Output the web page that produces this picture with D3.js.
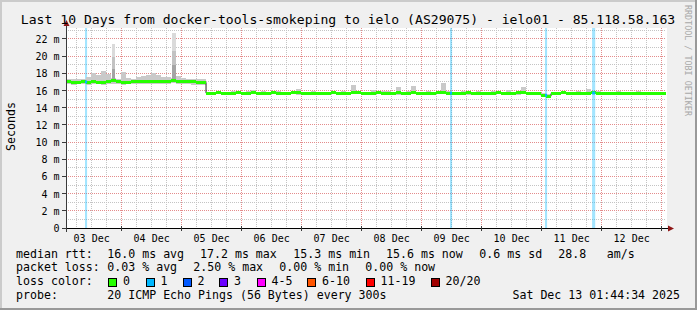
<!DOCTYPE html>
<html><head><meta charset="utf-8">
<script src="https://cdn.jsdelivr.net/npm/d3@7"></script>
<style>
html,body{margin:0;padding:0;background:#f0f0f0;overflow:hidden;}
svg{display:block;font-family:"DejaVu Sans Mono",monospace;}
</style>
</head><body><div id="chart"></div>
<script>
// ---------------- DATA ----------------
const title = "Last 10 Days from docker-tools-smokeping to ielo (AS29075) - ielo01 - 85.118.58.163";
const yAxisTitle = "Seconds";
const watermark = "RRDTOOL / TOBI OETIKER";
const rangeStart = "2025-12-03T01:44:34";
const rangeEnd = "2025-12-13T01:44:34";
const firstColumn = "2025-12-03T01:00:00";   // centre of first 2-hour column
const columnHours = 2;

// median RTT (ms) per 2-hour column
const median = [
  17.0,17.0,16.95,16.95,17.0,16.95,17.0,16.98,16.95,17.0,
  17.15,17.0,16.95,16.98,17.0,17.05,17.1,17.05,17.0,17.05,
  17.0,17.05,17.2,17.1,17.05,17.0,17.0,16.98,16.95,
  15.7,15.68,15.72,15.7,15.66,15.7,15.72,15.68,15.7,15.74,
  15.7,15.68,15.7,15.72,15.7,15.66,15.7,15.72,15.75,15.7,
  15.68,15.7,15.7,15.66,15.7,15.72,15.7,15.68,15.7,15.75,
  15.72,15.7,15.68,15.7,15.72,15.7,15.66,15.7,15.74,15.7,
  15.7,15.72,15.68,15.7,15.7,15.66,15.72,15.75,15.7,15.68,
  15.7,15.7,15.72,15.68,15.7,15.66,15.7,15.7,15.72,15.7,
  15.7,15.68,15.72,15.74,15.7,15.66,15.6,15.45,15.35,15.65,
  15.7,15.72,15.7,15.68,15.7,15.66,15.7,15.72,15.7,15.68,
  15.7,15.66,15.7,15.68,15.66,15.7,15.68,15.66,15.65,15.66,
  15.65,15.6
];
// upper edge of the smoke (ms)
const smokeHi = [
  17.3,17.3,17.3,17.35,17.4,17.6,18.0,17.8,18.3,17.9,
  17.5,17.4,18.2,17.5,17.4,17.6,17.7,17.8,18.0,17.8,
  17.6,17.6,17.5,17.7,17.5,17.4,17.4,17.3,17.4,
  15.85,15.85,15.9,15.85,15.85,15.9,15.85,15.85,15.9,16.1,
  15.85,15.9,15.85,15.85,15.9,15.85,15.85,15.9,16.15,15.85,
  15.85,15.9,15.85,15.85,15.85,15.9,15.85,15.95,15.85,16.6,
  15.9,15.85,15.85,16.1,15.85,15.9,16.0,15.85,16.4,15.85,
  15.9,16.5,15.85,15.85,15.9,15.85,15.85,16.9,15.9,15.85,
  15.85,15.9,15.85,15.85,15.9,15.85,15.85,15.9,15.85,15.85,
  16.1,15.85,15.9,16.4,15.85,15.85,15.8,15.75,15.6,15.85,
  15.85,15.9,15.85,15.85,15.9,15.85,16.2,15.85,15.9,15.85,
  15.85,15.85,15.9,15.85,15.85,15.85,16.0,15.85,15.85,15.85,
  15.85,15.8
];
// lower edge of the smoke (ms)
const smokeLo = [
  16.75,16.75,16.7,16.75,16.75,16.7,16.75,16.75,16.7,16.75,
  16.8,16.75,16.7,16.75,16.75,16.75,16.8,16.75,16.75,16.8,
  16.75,16.75,16.85,16.8,16.75,16.75,16.7,16.7,16.7,
  15.55,15.5,15.55,15.55,15.5,15.55,15.55,15.5,15.55,15.55,
  15.55,15.5,15.55,15.55,15.5,15.55,15.55,15.55,15.5,15.55,
  15.5,15.55,15.55,15.5,15.55,15.55,15.5,15.55,15.55,15.55,
  15.55,15.5,15.55,15.55,15.55,15.5,15.55,15.55,15.5,15.55,
  15.55,15.55,15.5,15.55,15.55,15.5,15.55,15.55,15.55,15.5,
  15.55,15.55,15.5,15.55,15.55,15.5,15.55,15.55,15.55,15.5,
  15.55,15.55,15.5,15.55,15.55,15.5,15.45,15.3,15.2,15.5,
  15.55,15.55,15.5,15.55,15.55,15.5,15.55,15.55,15.55,15.5,
  15.55,15.5,15.55,15.55,15.5,15.55,15.55,15.5,15.5,15.5,
  15.5,15.45
];
// two tall smoke spikes
const spikeStart = ["2025-12-03T20:17:00","2025-12-04T20:17:00"];
const spikeMinutes = [80, 96];
const spikeTop = [21.45, 22.75];
const spikeLight = [19.95, 20.6];   // light grey part ends here
const spikeMid = [18.5, 19.0];      // medium grey part ends here
const spikeBase = [17.0, 17.0];

// packet-loss events
const lossStart = ["2025-12-03T09:35:00","2025-12-09T11:35:00","2025-12-11T01:35:00","2025-12-11T20:25:00"];
const lossMinutes = [50, 50, 50, 75];
const lossCount = [1, 1, 1, 1];

// axes
const yTicks = [0,2,4,6,8,10,12,14,16,18,20,22];
const yTickLabels = ["0","2 m","4 m","6 m","8 m","10 m","12 m","14 m","16 m","18 m","20 m","22 m"];
const xTickDates = ["2025-12-03T12:00:00","2025-12-04T12:00:00","2025-12-05T12:00:00","2025-12-06T12:00:00","2025-12-07T12:00:00",
                    "2025-12-08T12:00:00","2025-12-09T12:00:00","2025-12-10T12:00:00","2025-12-11T12:00:00","2025-12-12T12:00:00"];
const xTickLabels = ["03 Dec","04 Dec","05 Dec","06 Dec","07 Dec","08 Dec","09 Dec","10 Dec","11 Dec","12 Dec"];

// legend
const rttTitle = "median rtt:";
const rttStats = ["16.0 ms avg","17.2 ms max","15.3 ms min","15.6 ms now","0.6 ms sd","28.8","am/s"];
const lossTitle = "packet loss:";
const lossStats = ["0.03 % avg","2.50 % max","0.00 % min","0.00 % now"];
const lossColorTitle = "loss color:";
const lossColorLabels = ["0","1","2","3","4-5","6-10","11-19","20/20"];
const lossColors = ["#26ff00","#00b8ff","#0059ff","#6a00ff","#ff00ff","#ff5500","#ff0000","#a10000"];
const probeTitle = "probe:";
const probeText = "20 ICMP Echo Pings (56 Bytes) every 300s";
const dateText = "Sat Dec 13 01:44:34 2025";

// ---------------- LAYOUT ----------------
const W = 697, H = 310;
const plotL = 66, plotR = 666, plotT = 28, plotB = 228;
const parse = d3.timeParse("%Y-%m-%dT%H:%M:%S");
const t0 = parse(rangeStart), t1 = parse(rangeEnd);
const x = d3.scaleTime().domain([t0, t1]).range([65.4, 665.4]);
const y = d3.scaleLinear().domain([0, 200 / (189 / 22)]).range([plotB, plotT]);
const px = v => Math.floor(v) + 0.5;

const svg = d3.select("#chart").append("svg").attr("width", W).attr("height", H);
svg.append("rect").attr("width", W).attr("height", H).attr("fill", "#f0f0f0");

svg.append("defs").append("clipPath").attr("id", "clip")
  .append("rect").attr("x", plotL).attr("y", plotT).attr("width", plotR - plotL + 1).attr("height", plotB - plotT);

svg.append("rect").attr("x", plotL).attr("y", plotT).attr("width", plotR - plotL + 1).attr("height", plotB - plotT)
  .attr("fill", "#ffffff");

const grid = svg.append("g").attr("shape-rendering", "crispEdges").attr("stroke-width", 1).attr("stroke-dasharray", "1,1");
const minorTimes = d3.timeHour.every(6).range(t0, t1).filter(d => d.getHours() !== 0);
grid.selectAll(".vmin").data(minorTimes).join("line")
  .attr("x1", d => px(x(d))).attr("x2", d => px(x(d))).attr("y1", plotT).attr("y2", plotB)
  .attr("stroke", "#c4c4c4");
const minorVals = d3.range(1, 24, 2);
grid.selectAll(".hmin").data(minorVals).join("line")
  .attr("x1", plotL).attr("x2", plotR).attr("y1", d => px(y(d))).attr("y2", d => px(y(d)))
  .attr("stroke", "#c4c4c4");
const dayTimes = d3.timeDay.range(t0, t1);
grid.selectAll(".vmaj").data(dayTimes).join("line")
  .attr("x1", d => px(x(d))).attr("x2", d => px(x(d))).attr("y1", plotT).attr("y2", plotB)
  .attr("stroke", "#e48c8c");
grid.selectAll(".hmaj").data(yTicks.filter(v => v > 0)).join("line")
  .attr("x1", plotL).attr("x2", plotR).attr("y1", d => px(y(d))).attr("y2", d => px(y(d)))
  .attr("stroke", "#e48c8c");

const plot = svg.append("g").attr("clip-path", "url(#clip)");

// loss background bars
plot.selectAll(".lossbar").data(lossStart).join("rect")
  .attr("x", d => x(parse(d)))
  .attr("width", (d, i) => x(d3.timeMinute.offset(parse(d), lossMinutes[i])) - x(parse(d)))
  .attr("y", plotT).attr("height", plotB - plotT)
  .attr("fill", (d, i) => lossColors[lossCount[i]]).attr("fill-opacity", 0.36);

// columns
const c0 = parse(firstColumn);
const cols = median.map((m, i) => {
  const t = d3.timeHour.offset(c0, i * columnHours);
  return { t, a: d3.timeHour.offset(t, -columnHours / 2), b: d3.timeHour.offset(t, columnHours / 2), m, hi: smokeHi[i], lo: smokeLo[i] };
});

// smoke
plot.append("g").attr("shape-rendering", "crispEdges").selectAll("rect").data(cols).join("rect")
  .attr("x", d => x(d.a)).attr("width", d => x(d.b) - x(d.a))
  .attr("y", d => y(d.hi)).attr("height", d => y(d.lo) - y(d.hi))
  .attr("fill", "#c9c9c9");

// spikes
const spikes = spikeStart.map((s, i) => ({ a: parse(s), b: d3.timeMinute.offset(parse(s), spikeMinutes[i]), i }));
const sp = plot.append("g").attr("shape-rendering", "crispEdges");
const spikeBand = (top, bot, col) => sp.append("g").selectAll("rect").data(spikes).join("rect")
  .attr("x", d => x(d.a)).attr("width", d => x(d.b) - x(d.a))
  .attr("y", d => y(top[d.i])).attr("height", d => y(bot[d.i]) - y(top[d.i]))
  .attr("fill", col);
spikeBand(spikeTop, spikeLight, "#dadada");
spikeBand(spikeLight, spikeMid, "#c2c2c2");
spikeBand(spikeMid, spikeBase, "#a4a4a4");

// median: thin dark step line under coloured segments
plot.append("path").datum(cols)
  .attr("d", d3.line().x(d => x(d.t)).y(d => y(d.m)).curve(d3.curveStep))
  .attr("fill", "none").attr("stroke", "#202020").attr("stroke-width", 1);
plot.append("g").attr("shape-rendering", "crispEdges").selectAll("line").data(cols).join("line")
  .attr("x1", d => x(d.a)).attr("x2", d => x(d.b))
  .attr("y1", d => y(d.m)).attr("y2", d => y(d.m))
  .attr("stroke", lossColors[0]).attr("stroke-width", 3);
const colAt = t => cols[Math.max(0, Math.min(cols.length - 1, Math.round((t - c0) / 36e5 / columnHours)))];
plot.append("g").selectAll("line").data(lossStart).join("line")
  .attr("x1", d => x(parse(d))).attr("x2", (d, i) => x(d3.timeMinute.offset(parse(d), lossMinutes[i])))
  .attr("y1", d => y(colAt(parse(d)).m)).attr("y2", d => y(colAt(parse(d)).m))
  .attr("stroke", (d, i) => lossColors[lossCount[i]]).attr("stroke-width", 3);

// axes
const axisG = svg.append("g").attr("shape-rendering", "crispEdges");
axisG.append("line").attr("x1", 62).attr("x2", 670).attr("y1", px(plotB)).attr("y2", px(plotB)).attr("stroke", "#000");
axisG.append("line").attr("x1", px(plotL)).attr("x2", px(plotL)).attr("y1", 232).attr("y2", 24).attr("stroke", "#3a3a3a");
axisG.selectAll(".yt").data(yTicks).join("line")
  .attr("x1", 62).attr("x2", plotL).attr("y1", d => px(y(d))).attr("y2", d => px(y(d))).attr("stroke", "#3a3a3a");
axisG.selectAll(".xt").data(dayTimes).join("line")
  .attr("x1", d => px(x(d))).attr("x2", d => px(x(d))).attr("y1", 226).attr("y2", 231).attr("stroke", "#3a3a3a");
svg.append("path").attr("d", `M${plotL + 0.5 - 3},26 L${plotL + 0.5 + 3},26 L${plotL + 0.5},20 Z`).attr("fill", "#8e1616");
svg.append("path").attr("d", `M668,${plotB + 0.5 - 3} L668,${plotB + 0.5 + 3} L674,${plotB + 0.5} Z`).attr("fill", "#8e1616");

// tick labels
svg.append("g").selectAll("text").data(yTicks).join("text")
  .attr("x", 59.5).attr("y", d => y(d) + 4).attr("text-anchor", "end")
  .attr("font-size", "10px").attr("fill", "#000").text((d, i) => yTickLabels[i]);
svg.append("g").selectAll("text").data(xTickDates).join("text")
  .attr("x", d => x(parse(d)) + 0.6).attr("y", 241.5).attr("text-anchor", "middle")
  .attr("font-size", "10px").attr("fill", "#000").text((d, i) => xTickLabels[i]);

svg.append("text").attr("x", 348).attr("y", 24).attr("text-anchor", "middle")
  .attr("font-size", "13.1px").attr("fill", "#000").text(title);
svg.append("text").attr("transform", "translate(14.5,126.5) rotate(-90)").attr("text-anchor", "middle")
  .attr("font-size", "11.6px").attr("fill", "#000").text(yAxisTitle);
svg.append("text").attr("transform", "translate(684.5,5) rotate(90)").attr("text-anchor", "start")
  .attr("font-size", "8.4px").attr("fill", "#a8a8a8").text(watermark);

// legend
const lg = svg.append("g").attr("font-size", "11.6px").attr("fill", "#000");
const rowY = [257.5, 271.4, 285.3, 299.2];
lg.append("text").attr("x", 16).attr("y", rowY[0]).text(rttTitle);
const rttX = [107.3, 200, 293.3, 386, 479.3, 558.3, 606.7];
lg.selectAll(".rtt").data(rttStats).join("text").attr("x", (d, i) => rttX[i]).attr("y", rowY[0]).text(d => d);
lg.append("text").attr("x", 16).attr("y", rowY[1]).text(lossTitle);
const lossX = [107.3, 193.3, 279.3, 365.3];
lg.selectAll(".ls").data(lossStats).join("text").attr("x", (d, i) => lossX[i]).attr("y", rowY[1]).text(d => d);
lg.append("text").attr("x", 16).attr("y", rowY[2]).text(lossColorTitle);
const boxX = [108.5, 146, 183, 219.5, 257, 307.5, 366, 431];
lg.selectAll(".box").data(lossColors).join("rect")
  .attr("x", (d, i) => boxX[i]).attr("y", 278.5).attr("width", 8).attr("height", 8)
  .attr("fill", d => d).attr("stroke", "#000").attr("stroke-width", 1).attr("shape-rendering", "crispEdges");
lg.selectAll(".bl").data(lossColorLabels).join("text")
  .attr("x", (d, i) => boxX[i] + 14.6).attr("y", rowY[2]).text(d => d);
lg.append("text").attr("x", 16).attr("y", rowY[3]).text(probeTitle);
lg.append("text").attr("x", 107.3).attr("y", rowY[3]).text(probeText);
lg.append("text").attr("x", 680).attr("y", rowY[3]).attr("text-anchor", "end").text(dateText);

// 3D frame
const fr = svg.append("g").attr("shape-rendering", "crispEdges");
fr.append("rect").attr("x", 0).attr("y", 0).attr("width", W).attr("height", 2).attr("fill", "#cbcbcb");
fr.append("rect").attr("x", 0).attr("y", 0).attr("width", 2).attr("height", H).attr("fill", "#cbcbcb");
fr.append("rect").attr("x", 0).attr("y", H - 2).attr("width", W).attr("height", 2).attr("fill", "#999999");
fr.append("rect").attr("x", W - 2).attr("y", 0).attr("width", 2).attr("height", H).attr("fill", "#999999");
</script>
</body></html>
